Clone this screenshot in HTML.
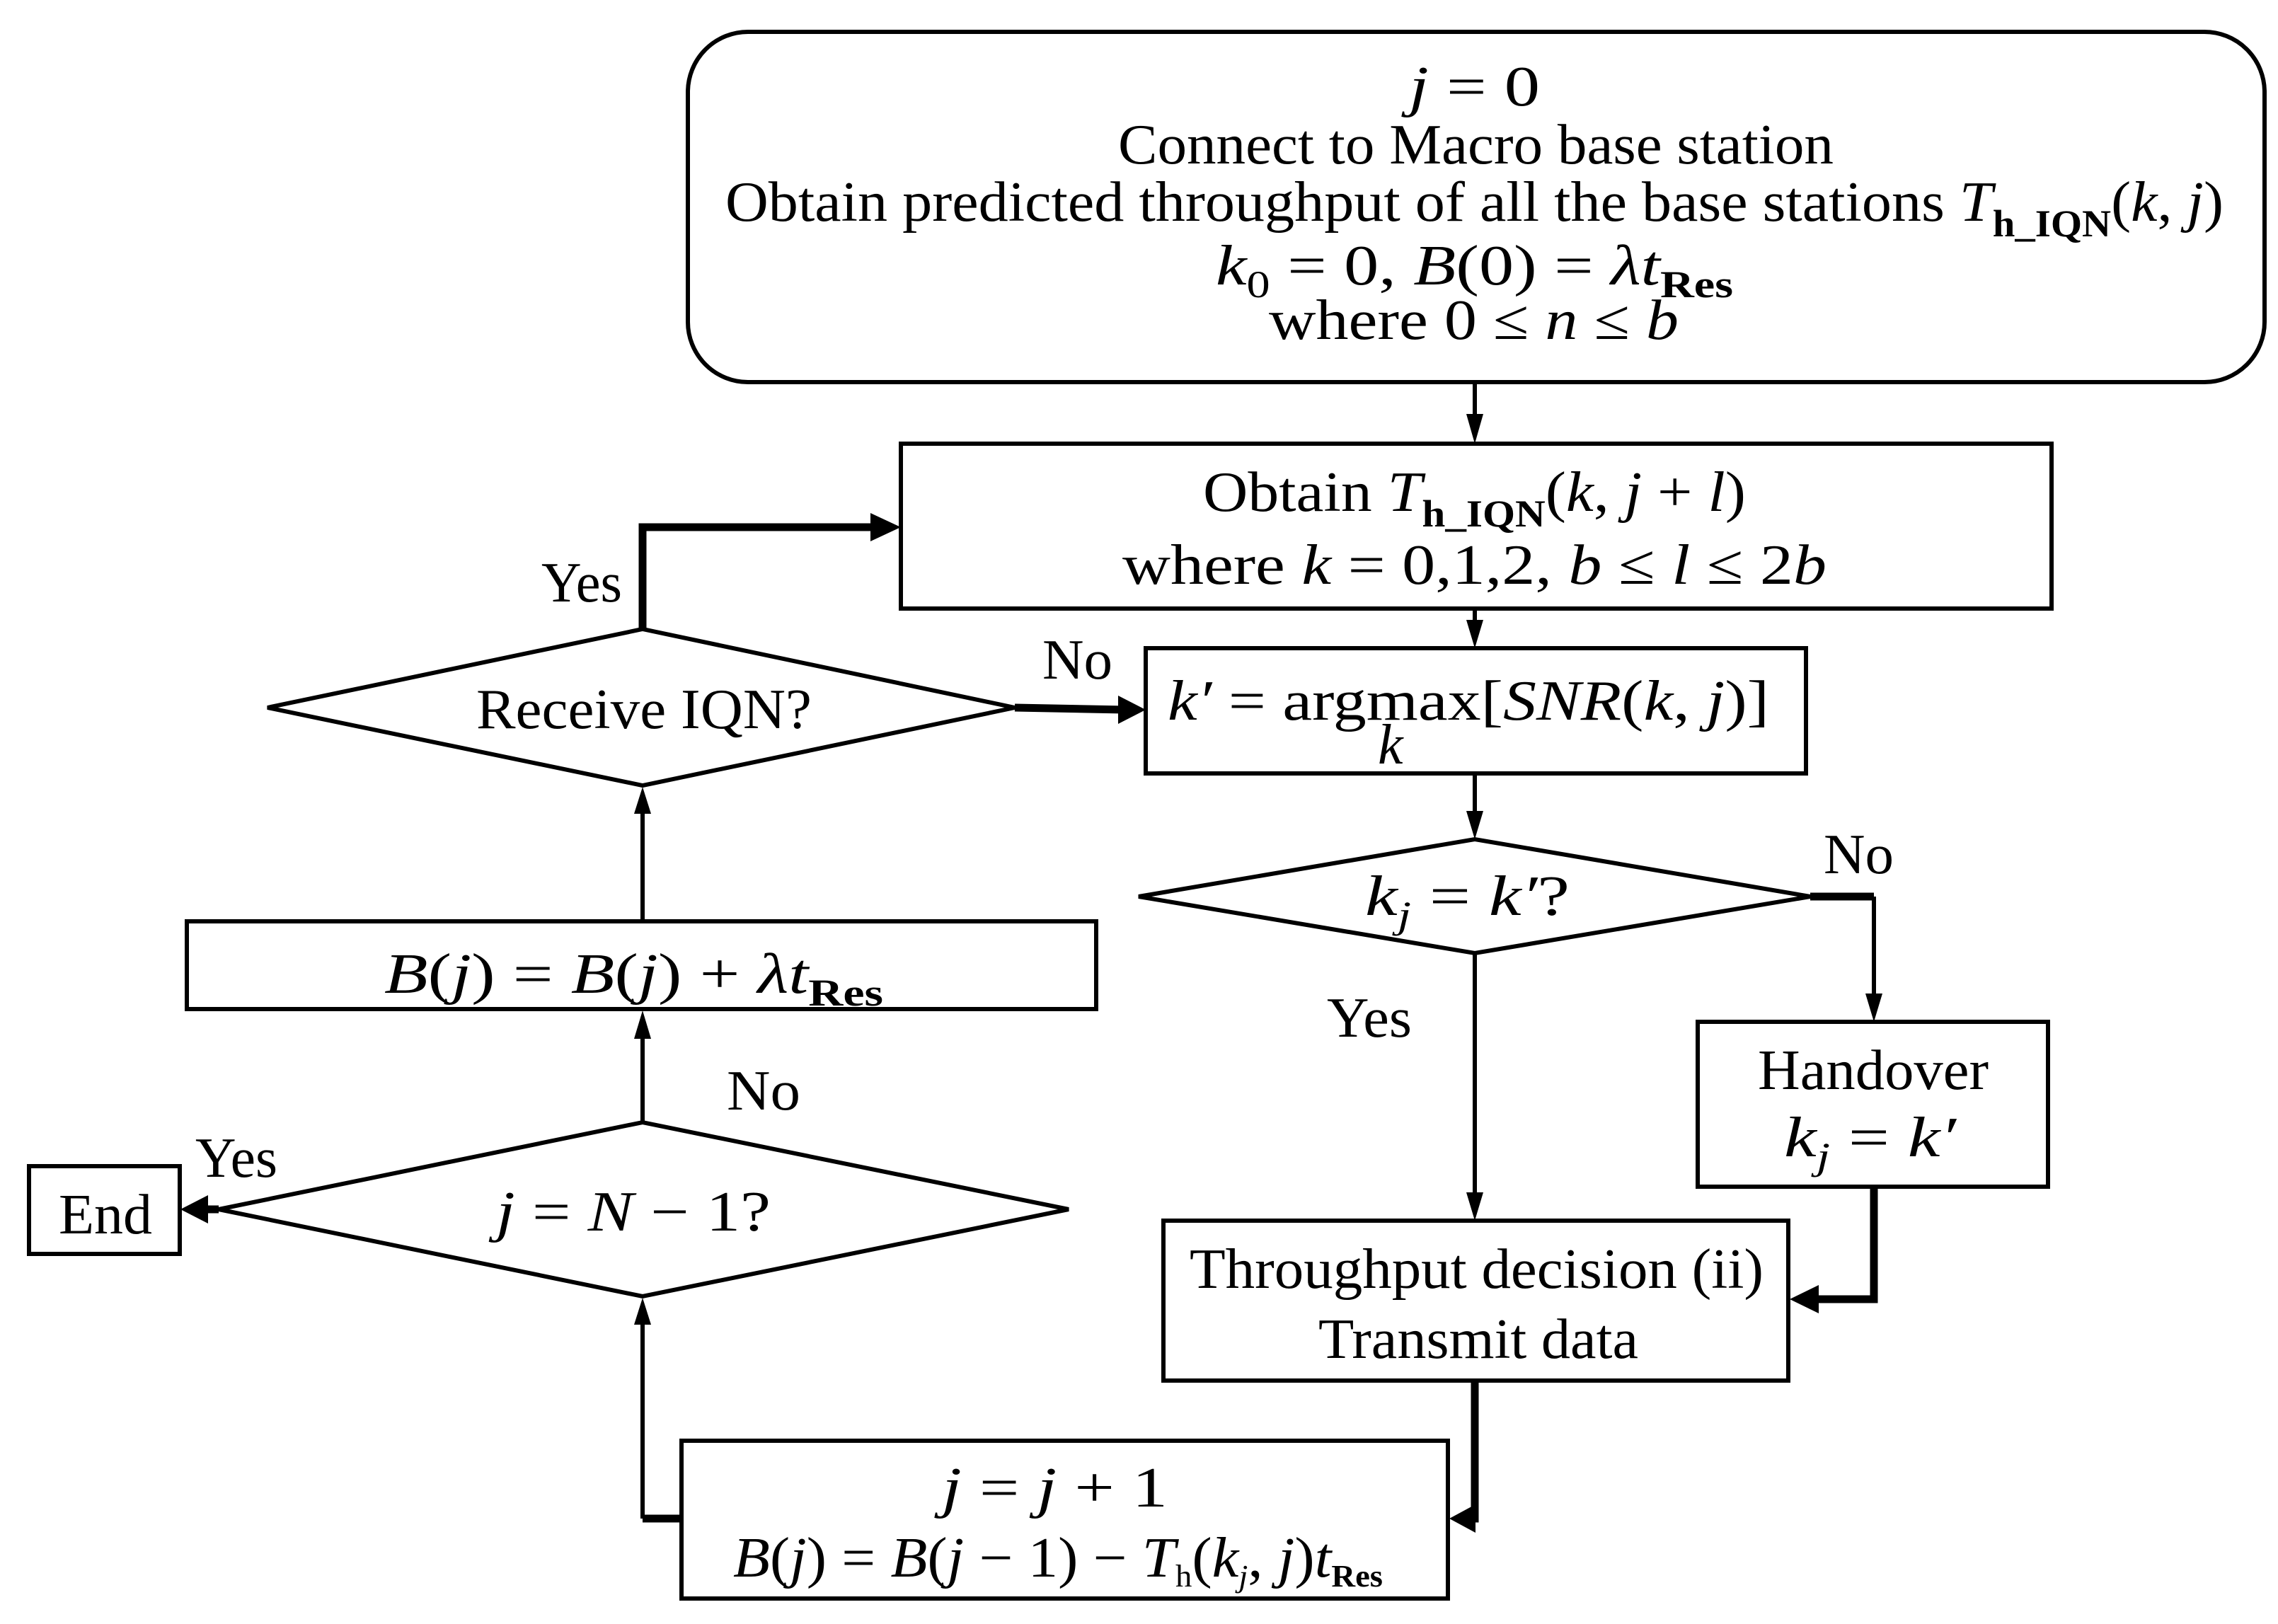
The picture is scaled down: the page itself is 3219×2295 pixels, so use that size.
<!DOCTYPE html>
<html><head><meta charset="utf-8"><style>
html,body{margin:0;padding:0;background:#fff}
svg{display:block}
text{font-family:"Liberation Serif",serif;font-size:80px;fill:#000}
.i{font-style:italic}
</style></head><body>
<svg width="3219" height="2295" viewBox="0 0 3219 2295" xmlns="http://www.w3.org/2000/svg">
<g fill="none" stroke="#000" stroke-width="6">
<rect x="972" y="45" width="2228" height="495" rx="85"/>
<rect x="1273" y="627" width="1626" height="233"/>
<rect x="1619" y="916" width="933" height="177"/>
<polygon points="1609,1267 2084,1186 2558,1267 2084,1347"/>
<rect x="2399" y="1444" width="495" height="233"/>
<rect x="1644" y="1725" width="883" height="226"/>
<rect x="963" y="2036" width="1083" height="223"/>
<polygon points="309,1709 908,1586 1510,1709 908,1832"/>
<rect x="41" y="1648" width="213" height="124"/>
<rect x="264" y="1302" width="1285" height="124"/>
<polygon points="378,1000 908,889 1434,1000 908,1110"/>
<line x1="2084" y1="540" x2="2084" y2="590"/>
<line x1="2084" y1="860" x2="2084" y2="885"/>
<line x1="2084" y1="1093" x2="2084" y2="1150"/>
<line x1="2084" y1="1347" x2="2084" y2="1690"/>
<line x1="2648" y1="1267" x2="2648" y2="1410"/>
<line x1="908" y1="1586" x2="908" y2="1465"/>
<line x1="908" y1="1302" x2="908" y2="1148"/>
<line x1="908" y1="2146" x2="908" y2="1870"/>
</g>
<g fill="none" stroke="#000" stroke-width="11">
<polyline points="908,889 908,745 1240,745"/>
<line x1="1434" y1="1000" x2="1590" y2="1003"/>
<line x1="2558" y1="1267" x2="2648" y2="1267"/>
<polyline points="2648,1677 2648,1836 2560,1836"/>
<polyline points="2084,1951 2084,2146 2075,2146"/>
<line x1="963" y1="2146" x2="908" y2="2146"/>
<line x1="309" y1="1709" x2="285" y2="1709"/>
</g>
<g fill="#000">
<polygon points="2072,585 2096,585 2084,627"/>
<polygon points="2072,876 2096,876 2084,916"/>
<polygon points="2072,1146 2096,1146 2084,1186"/>
<polygon points="2072,1685 2096,1685 2084,1725"/>
<polygon points="2636,1404 2660,1404 2648,1444"/>
<polygon points="896,1468 920,1468 908,1428"/>
<polygon points="896,1150 920,1150 908,1112"/>
<polygon points="896,1872 920,1872 908,1834"/>
<polygon points="1230,725 1230,765 1273,745"/>
<polygon points="1580,983 1580,1023 1619,1003"/>
<polygon points="2570,1816 2570,1856 2529,1836"/>
<polygon points="2085,2126 2085,2166 2048,2146"/>
<polygon points="294,1689 294,1729 255,1709"/>
</g>
<g>
<text x="1991" y="149" textLength="185" lengthAdjust="spacingAndGlyphs"><tspan class="i">j</tspan> = 0</text>
<text x="1580" y="231" textLength="1011" lengthAdjust="spacingAndGlyphs">Connect to Macro base station</text>
<text x="1025" y="312" textLength="2117" lengthAdjust="spacingAndGlyphs">Obtain predicted throughput of all the base stations <tspan class="i">T</tspan><tspan font-size="54" font-weight="bold" dy="22">h_IQN</tspan><tspan dy="-22">(<tspan class="i">k</tspan>, <tspan class="i">j</tspan>)</tspan></text>
<text x="1718" y="402" textLength="731" lengthAdjust="spacingAndGlyphs"><tspan class="i">k</tspan><tspan font-size="54" dy="18">0</tspan><tspan dy="-18"> = 0, </tspan><tspan class="i">B</tspan>(0) = <tspan class="i">λt</tspan><tspan font-size="54" font-weight="bold" dy="18">Res</tspan></text>
<text x="1793" y="479" textLength="579" lengthAdjust="spacingAndGlyphs">where 0 ≤ <tspan class="i">n</tspan> ≤ <tspan class="i">b</tspan></text>
<text x="1700" y="722" textLength="767" lengthAdjust="spacingAndGlyphs">Obtain <tspan class="i">T</tspan><tspan font-size="54" font-weight="bold" dy="22">h_IQN</tspan><tspan dy="-22">(<tspan class="i">k</tspan>, <tspan class="i">j</tspan> + <tspan class="i">l</tspan>)</tspan></text>
<text x="1586" y="825" textLength="995" lengthAdjust="spacingAndGlyphs">where <tspan class="i">k</tspan> = 0,1,2,  <tspan class="i">b</tspan> ≤ <tspan class="i">l</tspan> ≤ 2<tspan class="i">b</tspan></text>
<text x="1650" y="1017" textLength="850" lengthAdjust="spacingAndGlyphs"><tspan class="i">k′</tspan> = argmax[<tspan class="i">SNR</tspan>(<tspan class="i">k</tspan>, <tspan class="i">j</tspan>)]</text>
<text class="i" x="1947" y="1079" font-size="56">k</text>
<text x="1929" y="1293" textLength="289" lengthAdjust="spacingAndGlyphs"><tspan class="i">k</tspan><tspan class="i" font-size="54" dy="18">j</tspan><tspan dy="-18"> = </tspan><tspan class="i">k′</tspan>?</text>
<text x="2484" y="1539" textLength="326" lengthAdjust="spacingAndGlyphs">Handover</text>
<text x="2521" y="1634" textLength="243" lengthAdjust="spacingAndGlyphs"><tspan class="i">k</tspan><tspan class="i" font-size="54" dy="18">j</tspan><tspan dy="-18"> = </tspan><tspan class="i">k′</tspan></text>
<text x="1681" y="1820" textLength="811" lengthAdjust="spacingAndGlyphs">Throughput decision (ii)</text>
<text x="1863" y="1919" textLength="452" lengthAdjust="spacingAndGlyphs">Transmit data</text>
<text x="1331" y="2129" textLength="319" lengthAdjust="spacingAndGlyphs"><tspan class="i">j</tspan> = <tspan class="i">j</tspan> + 1</text>
<text x="1036" y="2228" font-size="64" textLength="918" lengthAdjust="spacingAndGlyphs"><tspan class="i">B</tspan>(<tspan class="i">j</tspan>) = <tspan class="i">B</tspan>(<tspan class="i">j</tspan> − 1) − <tspan class="i">T</tspan><tspan font-size="44" dy="14">h</tspan><tspan dy="-14">(<tspan class="i">k</tspan></tspan><tspan class="i" font-size="44" dy="14">j</tspan><tspan dy="-14">, <tspan class="i">j</tspan>)<tspan class="i">t</tspan></tspan><tspan font-size="44" font-weight="bold" dy="14">Res</tspan></text>
<text x="543" y="1403" textLength="705" lengthAdjust="spacingAndGlyphs"><tspan class="i">B</tspan>(<tspan class="i">j</tspan>) = <tspan class="i">B</tspan>(<tspan class="i">j</tspan>) + <tspan class="i">λt</tspan><tspan font-size="54" font-weight="bold" dy="18">Res</tspan></text>
<text x="673" y="1029" textLength="474" lengthAdjust="spacingAndGlyphs">Receive IQN?</text>
<text x="701" y="1739" textLength="388" lengthAdjust="spacingAndGlyphs"><tspan class="i">j</tspan> = <tspan class="i">N</tspan> − 1?</text>
<text x="83" y="1743" textLength="132" lengthAdjust="spacingAndGlyphs">End</text>
<text x="765" y="850" textLength="114" lengthAdjust="spacingAndGlyphs">Yes</text>
<text x="1473" y="959" textLength="99" lengthAdjust="spacingAndGlyphs">No</text>
<text x="2577" y="1234" textLength="99" lengthAdjust="spacingAndGlyphs">No</text>
<text x="1875" y="1465" textLength="120" lengthAdjust="spacingAndGlyphs">Yes</text>
<text x="1027" y="1568" textLength="104" lengthAdjust="spacingAndGlyphs">No</text>
<text x="276" y="1663" textLength="116" lengthAdjust="spacingAndGlyphs">Yes</text>
</g>
</svg>
</body></html>
